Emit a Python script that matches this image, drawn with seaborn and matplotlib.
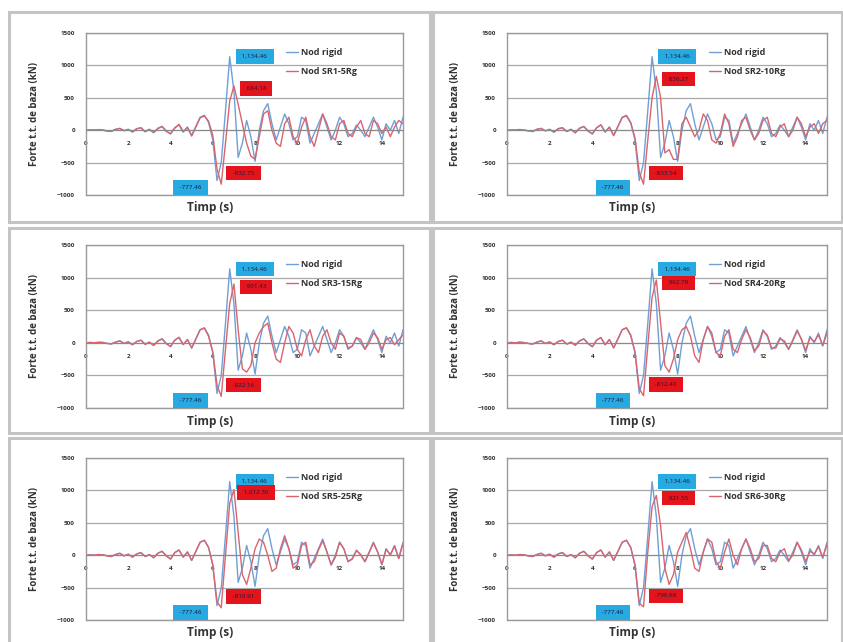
import numpy as np
import pandas as pd
import matplotlib
matplotlib.use("Agg")
import matplotlib.pyplot as plt
import seaborn as sns
from matplotlib.patches import Rectangle

sns.set_style("white")
plt.rcParams['font.family'] = ['Open Sans', 'DejaVu Sans']

# Date, pas de timp 0.2 s
timp = np.round(np.arange(0, 15.01, 0.2), 1)

nod_rigid = [0, 5, 0, 10, 5, -10, -20, 10, 30, -10,
             15, -30, 20, 40, -20, 10, -40, 30, 60, -10,
             -60, 40, 80, -30, 50, -80, 60, 200, 230, 120,
             -150, -777.46, -500, 300, 1134.46, 600, -420, -200, 150, -100,
             -480, 0, 300, 410, 100, -150, 50, 250, 100, -150,
             -100, 200, 150, -200, -50, 100, 250, 50, -150, 0,
             200, 100, -100, -50, 80, 0, -100, 50, 200, 50,
             -150, 100, 0, 150, -50, 200]

sr1 = [0, 5, 5, 5, 0, -15, -15, 15, 25, -5,
       10, -25, 25, 35, -25, 15, -35, 25, 55, -20,
       -50, 30, 90, -20, 40, -90, 50, 190, 220, 140,
       -80, -600, -832.75, -200, 450, 684.18, 400, 100, -200, -400,
       -450, -100, 250, 300, 0, -200, -250, 100, 200, -100,
       -200, 50, 200, -100, -250, 0, 250, 100, -100, -150,
       100, 150, -50, -100, 50, 150, -50, -100, 150, 100,
       -50, 50, -100, 50, 150, 100]

sr2 = [0, 0, 5, 10, 0, -10, -20, 15, 25, -10,
       10, -30, 25, 35, -20, 15, -40, 30, 55, -15,
       -55, 35, 85, -25, 45, -85, 55, 195, 220, 110,
       -120, -650, -833.54, -150, 500, 830.27, 500, -350, -300, -450,
       -450, 100, 200, 50, -100, 0, 250, 150, -150, -200,
       -50, 250, 100, -250, -100, 150, 200, 0, -150, -50,
       150, 200, -50, -100, 50, 100, -100, 0, 200, 100,
       -100, 50, 100, -50, 100, 150]

sr3 = [0, 5, 0, 5, 5, -10, -15, 10, 30, -10,
       15, -30, 20, 40, -25, 10, -40, 25, 60, -15,
       -55, 40, 85, -25, 50, -80, 60, 200, 225, 100,
       -140, -650, -822.16, -100, 600, 901.43, 200, -400, -450, -350,
       0, 150, 250, 300, 0, -250, -300, 0, 250, 150,
       -100, -200, 50, 200, -50, -150, 100, 200, 0, -100,
       150, 100, -80, -50, 80, 50, -100, 0, 150, 80,
       -100, 50, 80, -30, 50, 120]

sr4 = [0, 5, 0, 10, 0, -10, -20, 10, 30, -10,
       10, -30, 20, 40, -20, 10, -35, 30, 60, -10,
       -60, 40, 80, -30, 50, -75, 60, 200, 230, 110,
       -140, -700, -812.40, -50, 700, 962.78, 300, -350, -450, -250,
       50, 200, 250, 100, -200, -300, 50, 250, 150, -150,
       -200, 100, 200, -100, -150, 50, 200, 80, -120, -50,
       180, 120, -80, -80, 60, 30, -100, 30, 180, 60,
       -120, 80, 20, 120, -40, 150]

sr5 = [0, 5, 0, 10, 5, -10, -20, 10, 30, -10,
       15, -30, 20, 40, -20, 10, -40, 30, 60, -10,
       -60, 40, 80, -30, 50, -80, 60, 200, 230, 120,
       -150, -720, -810.91, 0, 800, 1012.30, 350, -300, -450, -200,
       100, 250, 200, 0, -250, -200, 100, 300, 100, -200,
       -150, 150, 200, -150, -100, 80, 220, 50, -150, -30,
       200, 100, -100, -60, 70, 10, -100, 40, 190, 50,
       -140, 90, 10, 140, -50, 180]

sr6 = [0, 5, 0, 10, 5, -10, -20, 10, 30, -10,
       15, -30, 20, 40, -20, 10, -40, 30, 60, -10,
       -60, 40, 80, -30, 50, -80, 60, 200, 230, 120,
       -150, -740, -796.68, 50, 750, 921.55, 450, -200, -450, -300,
       50, 200, 350, 100, -200, -250, 50, 250, 200, -100,
       -200, 50, 250, 0, -150, 100, 250, 100, -100, -50,
       150, 150, -50, -100, 50, 100, -80, 0, 200, 80,
       -100, 60, 20, 130, -30, 160]

serii_sr = [sr1, sr2, sr3, sr4, sr5, sr6]
nume_sr = ["Nod SR1-5Rg", "Nod SR2-10Rg", "Nod SR3-15Rg",
           "Nod SR4-20Rg", "Nod SR5-25Rg", "Nod SR6-30Rg"]

c_albastru = "#6f9fd6"
c_rosu = "#d9646e"
box_albastru = "#27a9e1"
box_rosu = "#e3141c"

W, H = 843, 642
fig = plt.figure(figsize=(W / 100, H / 100), dpi=100)

# chenarele graficelor (pixeli)
box_x = [(9, 430), (433, 842)]
box_y = [(12, 222), (228, 433), (438, 648)]
ax_x = [(86, 403), (507, 827)]
ax_y = [(33, 195), (245, 408), (458, 620)]

for r in range(3):
    for c in range(2):
        x0, x1 = box_x[c]
        y0, y1 = box_y[r]
        fig.add_artist(Rectangle((x0 / W, 1 - y1 / H), (x1 - x0) / W, (y1 - y0) / H,
                                 fill=False, edgecolor="#c4c4c4", lw=2.2,
                                 transform=fig.transFigure))


def eticheta(ax, x, y, text, fc, dx, dy):
    ax.annotate(" " + text + " ", (x, y), xytext=(dx, dy), textcoords="offset points",
                ha="center", va="center", fontsize=4.5, color="#1b1b3a",
                bbox=dict(boxstyle="square,pad=0.75", fc=fc, ec="none"))


for i in range(6):
    r, c = i // 2, i % 2
    x0, x1 = ax_x[c]
    y0, y1 = ax_y[r]
    ax = fig.add_axes([x0 / W, 1 - y1 / H, (x1 - x0) / W, (y1 - y0) / H])

    sr = serii_sr[i]
    df = pd.DataFrame({
        "t": np.concatenate([timp, timp]),
        "F": nod_rigid + sr,
        "serie": ["Nod rigid"] * len(timp) + [nume_sr[i]] * len(timp),
    })
    sns.lineplot(data=df, x="t", y="F", hue="serie", palette=[c_albastru, c_rosu],
                 estimator=None, lw=1.0, ax=ax)

    ax.set_xlim(0, 15)
    ax.set_ylim(-1000, 1500)
    ax.set_xticks(range(0, 15, 2))
    ax.set_yticks(range(-1000, 1501, 500))
    ax.grid(axis="y", color="#a8a8a8", lw=0.9)
    ax.set_axisbelow(True)
    for s in ["top", "right", "left"]:
        ax.spines[s].set_color("#9a9a9a")
        ax.spines[s].set_linewidth(1.0)
    ax.spines["bottom"].set_position(("data", 0))
    ax.spines["bottom"].set_color("#8a8a8a")
    ax.axhline(-1000, color="#9a9a9a", lw=1.0, clip_on=False)
    ax.tick_params(labelsize=4.5, colors="#333333", length=2, pad=6)
    for lb in ax.get_xticklabels() + ax.get_yticklabels():
        lb.set_fontweight("bold")

    ax.set_ylabel("Forte t.t. de baza (kN)", fontsize=7, fontweight="bold", color="#333333")
    ax.yaxis.set_label_coords(-0.145, 0.5)
    ax.set_xlabel("Timp (s)", fontsize=8.5, fontweight="bold", color="#333333")
    ax.xaxis.set_label_coords(0.39, -0.04)

    leg = ax.legend(loc="upper left", bbox_to_anchor=(0.62, 0.93), frameon=False,
                    fontsize=6.5, handlelength=1.3, handletextpad=0.4, labelspacing=1.1,
                    labelcolor="#333333", borderaxespad=0)
    for tx in leg.get_texts():
        tx.set_fontweight("bold")

    # etichete max / min
    b = np.array(nod_rigid)
    s_arr = np.array(sr)
    ib_max, ib_min = b.argmax(), b.argmin()
    is_max, is_min = s_arr.argmax(), s_arr.argmin()
    eticheta(ax, timp[ib_max], b[ib_max], f"{b[ib_max]:,.2f}", box_albastru, 18, 0)
    eticheta(ax, timp[ib_min], b[ib_min], f"{b[ib_min]:,.2f}", box_albastru, -19, -5)
    eticheta(ax, timp[is_max], s_arr[is_max], f"{s_arr[is_max]:,.2f}", box_rosu, 16, -2)
    eticheta(ax, timp[is_min], s_arr[is_min], f"{s_arr[is_min]:,.2f}", box_rosu, 16, 8)

plt.savefig("out.png", dpi=100)
